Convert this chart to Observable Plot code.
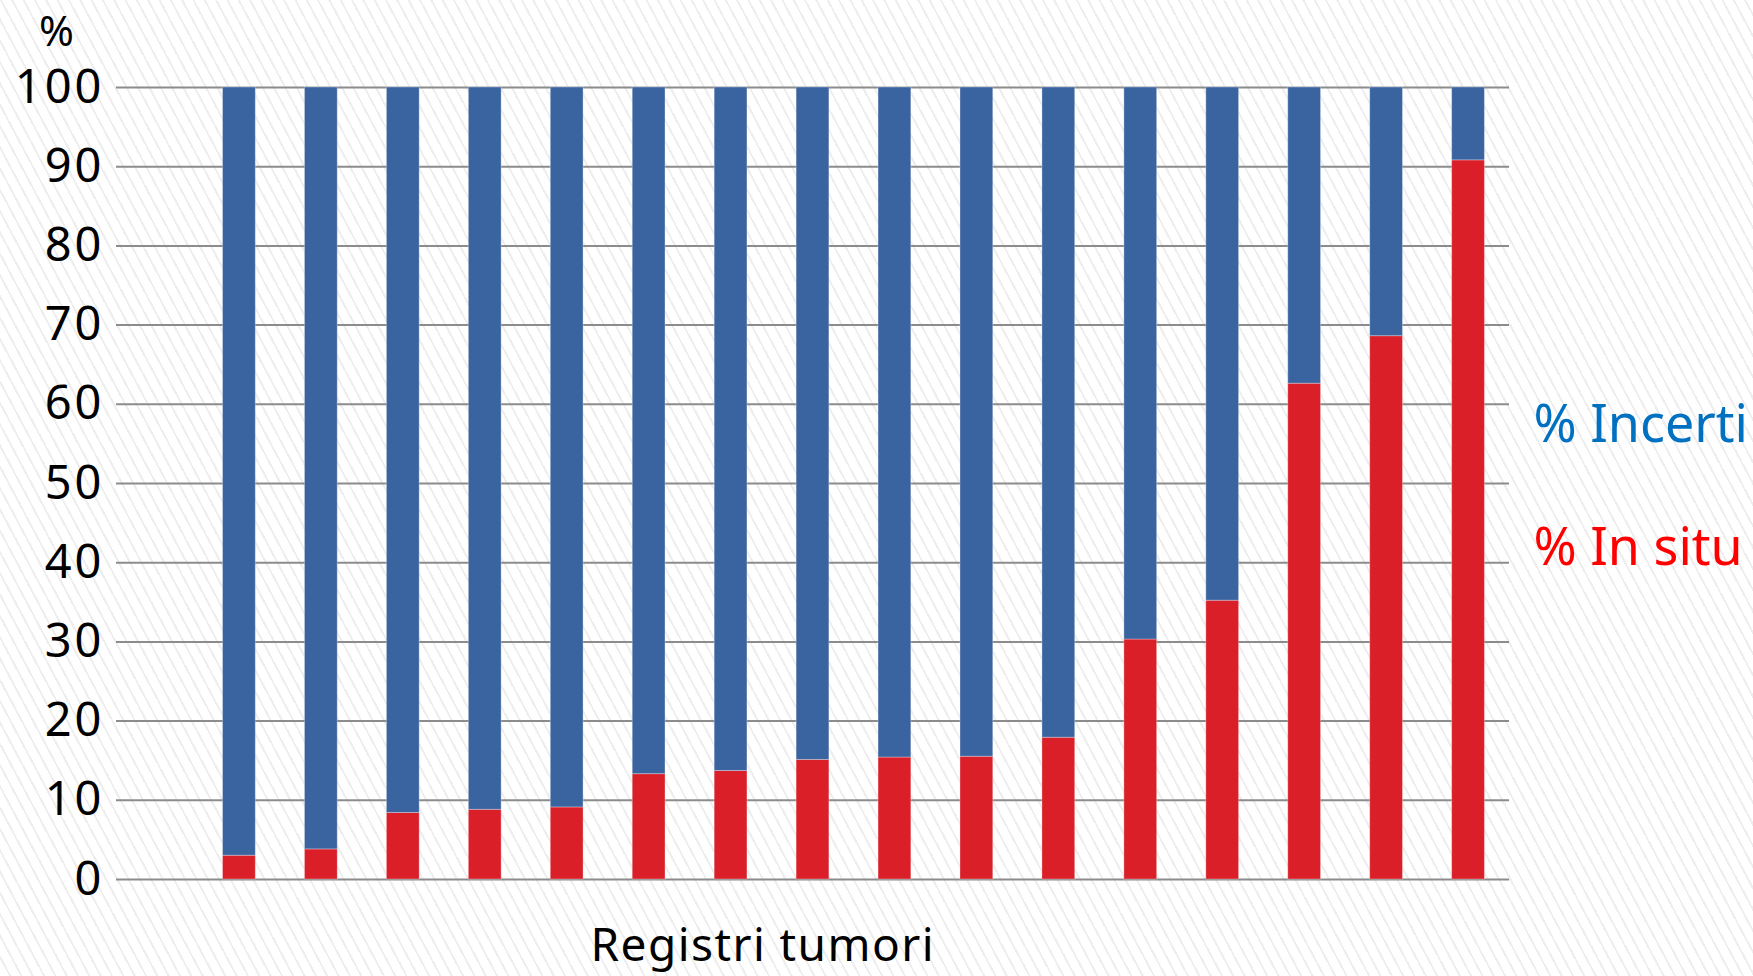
<!DOCTYPE html>
<html>
<head>
<meta charset="utf-8">
<script src="https://cdn.jsdelivr.net/npm/d3@7"></script>
<script src="https://cdn.jsdelivr.net/npm/@observablehq/plot@0.6"></script>
<style>
  html, body { margin: 0; padding: 0; overflow: hidden; }
  body {
    width: 1753px; height: 976px;
    background: repeating-linear-gradient(62deg, #ffffff 0px, #ffffff 8px, #eeeeee 8px, #eeeeee 10px);
  }
  svg { display: block; }
  .yticks text { letter-spacing: 3px; }
</style>
</head>
<body>
<div id="chart"></div>
<script>
// Categories: 17 slots (first slot is empty in the original chart)
const registries = ["", "R1", "R2", "R3", "R4", "R5", "R6", "R7", "R8", "R9", "R10", "R11", "R12", "R13", "R14", "R15", "R16"];
const barRegistries = registries.slice(1);
// % In situ per registry
const inSitu = [3.0, 3.8, 8.4, 8.8, 9.1, 13.3, 13.7, 15.1, 15.4, 15.5, 17.9, 30.3, 35.2, 62.6, 68.6, 90.8];
// % Incerti = remainder to 100
const incerti = inSitu.map(v => +(100 - v).toFixed(1));
const seriesNames = ["% In situ", "% Incerti"];
const seriesColors = ["#DA1F28", "#3A64A0"];
const legendColors = ["#FF0000", "#0070C0"];
const yTicks = [0, 10, 20, 30, 40, 50, 60, 70, 80, 90, 100];
const yLabel = "%";
const xLabel = "Registri tumori";

const rows = [];
barRegistries.forEach((r, i) => {
  rows.push({registry: r, series: seriesNames[0], value: inSitu[i]});
  rows.push({registry: r, series: seriesNames[1], value: incerti[i]});
});

const plot = Plot.plot({
  width: 1753,
  height: 976,
  marginTop: 87,
  marginBottom: 97,
  marginLeft: 116,
  marginRight: 244,
  style: {background: "transparent", fontFamily: "'Noto Sans', sans-serif", color: "#000"},
  x: {domain: registries, paddingInner: 0.6, paddingOuter: 0.3, round: false, axis: null},
  y: {domain: [0, 100], axis: null},
  color: {domain: seriesNames, range: seriesColors},
  marks: [
    Plot.ruleY(yTicks, {stroke: "#8c8c8c", strokeWidth: 2}),
    Plot.axisY({ticks: yTicks, tickSize: 0, tickPadding: 12, fontSize: 47, label: null, fill: "#000", tickFormat: d => String(d), className: "yticks"}),
    Plot.barY(rows, Plot.stackY({x: "registry", y: "value", fill: "series", order: seriesNames, stroke: "white", strokeOpacity: 0.3, strokeWidth: 1})),
    Plot.text([yLabel], {frameAnchor: "top-left", textAnchor: "middle", lineAnchor: "middle", dx: -60, dy: -55, fontSize: 42, fill: "#000", className: "ylabel"}),
    Plot.text([xLabel], {frameAnchor: "bottom", textAnchor: "middle", lineAnchor: "middle", dx: -51, dy: 67, fontSize: 46, fill: "#000", className: "xlabel"}),
    Plot.text([seriesNames[1]], {frameAnchor: "top-right", textAnchor: "start", lineAnchor: "middle", dx: 24, dy: 338, fontSize: 52, fill: legendColors[1]}),
    Plot.text([seriesNames[0]], {frameAnchor: "top-right", textAnchor: "start", lineAnchor: "middle", dx: 24, dy: 461, fontSize: 52, fill: legendColors[0]})
  ]
});
// stretch the x label to the width it has in the reference
d3.select(plot).selectAll(".xlabel text").attr("textLength", 343).attr("lengthAdjust", "spacing");
document.getElementById("chart").appendChild(plot);
</script>
</body>
</html>
